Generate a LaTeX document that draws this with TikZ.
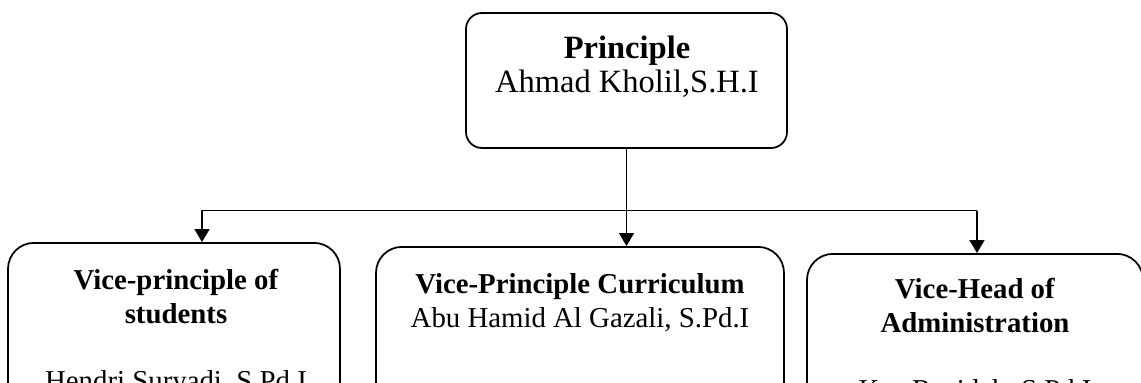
\documentclass[tikz,border=0pt]{standalone}
\usepackage{fontspec}
\setmainfont{Liberation Serif}
\usetikzlibrary{arrows.meta}
\tikzset{
  headbox/.style={draw,line width=1pt,rounded corners=0.32cm,minimum width=6.42cm,minimum height=2.70cm,inner sep=0pt},
  vicebox/.style={draw,line width=1pt,rounded corners=0.52cm,minimum width=#1,minimum height=5cm,anchor=north,inner sep=0pt},
  headtext/.style={align=center,inner sep=0pt,anchor=north,font=\fontsize{18.5}{19.3}\selectfont},
  vicetext/.style={align=center,inner sep=0pt,anchor=north,font=\fontsize{16.4}{19.2}\selectfont},
  link/.style={line width=1pt,-{Triangle[width=0.30cm,length=0.26cm]}}
}
\begin{document}
\begin{tikzpicture}[line join=round]
  \clip (0,0) rectangle (22.82,-7.64);
  % boxes
  \node[headbox] (prin) at (12.53,-1.61) {};
  \node[vicebox=6.64cm] (stud) at (3.48,-4.84) {};
  \node[vicebox=8.16cm] (curr) at (11.60,-4.92) {};
  \node[vicebox=6.72cm] (admin) at (19.50,-5.06) {};
  % texts
  \node[headtext] (prin-t) at (12.54,-0.72) {\textbf{Principle}\\Ahmad Kholil,S.H.I};
  \node[vicetext] (stud-t) at (3.52,-5.38) {\textbf{Vice-principle of}\\\textbf{students}\\[19.2pt]Hendri Suryadi, S.Pd.I};
  \node[vicetext] (curr-t) at (11.60,-5.46) {\textbf{Vice-Principle Curriculum}\\Abu Hamid Al Gazali, S.Pd.I};
  \node[vicetext] (admin-t) at (19.50,-5.56) {\textbf{Vice-Head of}\\\textbf{Administration}\\[19.2pt]Kus Rusidah, S.Pd.I};
  % connectors
  \coordinate (fork-l) at (4.04,-4.21);
  \coordinate (fork-r) at (19.54,-4.21);
  \draw[link] (prin.south) -- (prin.south |- curr.north);
  \draw[link] (fork-r) -- (fork-l) -- (fork-l |- stud.north);
  \draw[link] (fork-r) -- (fork-r |- admin.north);
\end{tikzpicture}
\end{document}
